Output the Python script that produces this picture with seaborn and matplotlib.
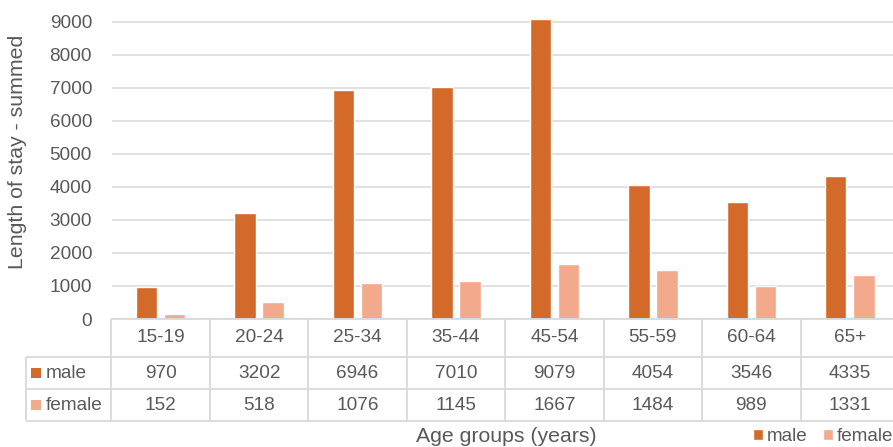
import matplotlib
matplotlib.use("Agg")
import matplotlib.pyplot as plt
import seaborn as sns
import pandas as pd

# Data
age_groups = ["15-19", "20-24", "25-34", "35-44", "45-54", "55-59", "60-64", "65+"]
male = [970, 3202, 6946, 7010, 9079, 4054, 3546, 4335]
female = [152, 518, 1076, 1145, 1667, 1484, 989, 1331]
series = ["male", "female"]
y_ticks = [0, 1000, 2000, 3000, 4000, 5000, 6000, 7000, 8000, 9000]

colors = {"male": "#D46A2A", "female": "#F3A98B"}
TEXT = "#595959"
GRID = "#D9D9D9"

sns.set_style("white")
plt.rcParams["font.family"] = ["Liberation Sans", "DejaVu Sans"]

W, H = 893, 447
fig = plt.figure(figsize=(W / 100, H / 100), dpi=100)


def fx(px):
    return px / W


def fy(py):
    return 1 - py / H


# Layout in pixels
plot_left, plot_right = 111.5, 899.0
plot_top, plot_bottom = 0.0, 319.0
table_left, table_bottom = 25.7, 420.7
row_edges = [0.0, 37.7, 70.3, 101.7]  # header, male, female (from table top)

ax = fig.add_axes([fx(plot_left), fy(plot_bottom),
                   (plot_right - plot_left) / W, (plot_bottom - plot_top) / H])

df = pd.DataFrame({
    "age": age_groups * 2,
    "sex": ["male"] * len(age_groups) + ["female"] * len(age_groups),
    "value": male + female,
})
sns.barplot(data=df, x="age", y="value", hue="sex", order=age_groups,
            hue_order=series, palette=colors, saturation=1, width=0.57,
            gap=0.235, errorbar=None, ax=ax)

ax.set_xlim(-0.5, len(age_groups) - 0.5)
ax.set_ylim(0, 9657)
ax.set_yticks(y_ticks)
ax.set_xticks([])
ax.set_xlabel("")
ax.set_ylabel("")
ax.yaxis.grid(True, color=GRID, lw=1.1)
ax.set_axisbelow(True)
for s in ax.spines.values():
    s.set_visible(False)
ax.tick_params(axis="y", length=0, pad=14, labelsize=13.7, labelcolor=TEXT)

fig.text(fx(18), fy(152), "Length of stay - summed", rotation=90,
         ha="center", va="center", fontsize=15.3, color=TEXT)

# Legend at the bottom right
handles, labels = ax.get_legend_handles_labels()
ax.get_legend().remove()
fig.legend(handles, labels, loc="center left",
           bbox_to_anchor=(fx(753), fy(436.7)), ncol=2, frameon=False,
           fontsize=13.6, handlelength=0.52, handleheight=0.52,
           handletextpad=0.2, columnspacing=0.85, borderpad=0,
           borderaxespad=0, labelcolor=TEXT)

fig.text(fx(506), fy(437), "Age groups (years)", ha="center", va="center",
         fontsize=15.3, color=TEXT)

# Data table under the bars
tax = fig.add_axes([fx(table_left), fy(table_bottom),
                    (plot_right - table_left) / W, (table_bottom - plot_bottom) / H])
unit = (plot_right - plot_left) / len(age_groups)
x_left = -0.5 - (plot_left - table_left) / unit
x_right = len(age_groups) - 0.5
tax.set_xlim(x_left, x_right)
tax.set_ylim(row_edges[-1], 0)
tax.axis("off")

line_kw = dict(color=GRID, lw=1.3, clip_on=False, solid_capstyle="butt")
tax.plot([-0.5, x_right], [row_edges[0]] * 2, **line_kw)
for y in row_edges[1:]:
    tax.plot([x_left, x_right], [y, y], **line_kw)
tax.plot([x_left, x_left], [row_edges[1], row_edges[-1]], **line_kw)
for k in range(len(age_groups) + 1):
    xb = k - 0.5
    tax.plot([xb, xb], [row_edges[0], row_edges[-1]], **line_kw)

fs = 13.7
for i, g in enumerate(age_groups):
    tax.text(i, (row_edges[0] + row_edges[1]) / 2, g, ha="center", va="center",
             fontsize=fs, color=TEXT)
for r, (name, vals) in enumerate(zip(series, [male, female])):
    yc = (row_edges[r + 1] + row_edges[r + 2]) / 2
    for i, v in enumerate(vals):
        tax.text(i, yc, f"{v}", ha="center", va="center", fontsize=fs, color=TEXT)
    tax.scatter([x_left + (36.2 - table_left) / unit], [yc], marker="s", s=42,
                color=colors[name], linewidths=0, clip_on=False)
    tax.text(x_left + (45.5 - table_left) / unit, yc, name, ha="left",
             va="center", fontsize=fs, color=TEXT)

fig.savefig("out.png", dpi=100)
